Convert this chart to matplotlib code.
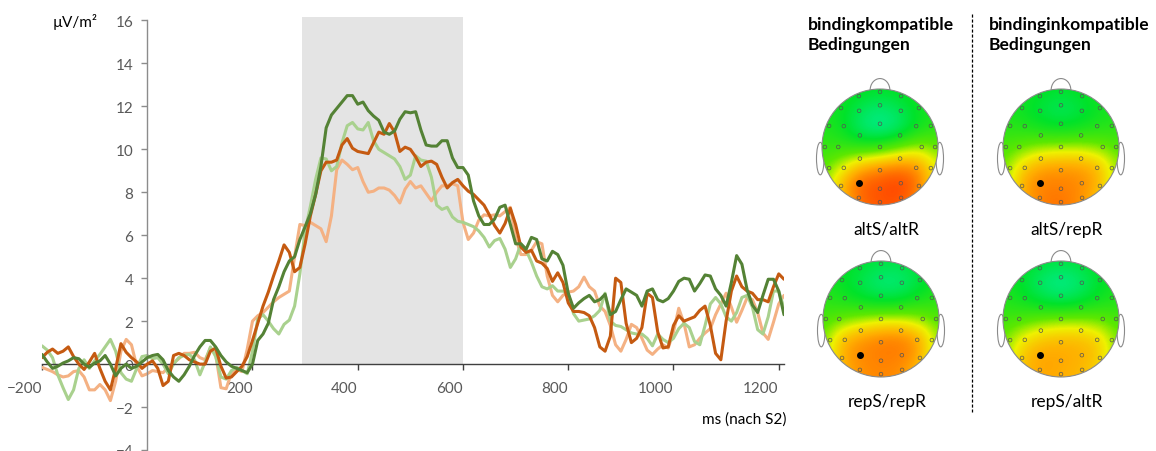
import numpy as np
import matplotlib
matplotlib.use("Agg")
import matplotlib.pyplot as plt
from matplotlib.colors import LinearSegmentedColormap
from matplotlib.patches import Circle, Ellipse, Arc

plt.rcParams["font.family"] = ["Lato", "DejaVu Sans"]

W, H = 1156, 452

# ERP curves, µV/m², one value every 10 ms from -200 to 1210 ms
ms = np.arange(-200, 1211, 10)

dark_green = [
    0.45, 0.1, -0.2, -0.1, 0.05, 0.15, 0.3, 0.25, 0.0, -0.15,
    0.05, 0.15, 0.4, 0.0, -0.55, -0.2, 0.0, -0.2, -0.1, 0.1,
    0.3, 0.4, 0.45, 0.2, -0.3, -0.6, -0.8, -0.5, -0.1, 0.4,
    0.8, 1.1, 1.1, 0.8, 0.4, 0.1, -0.1, -0.2, -0.3, -0.4,
    0.0, 1.1, 1.4, 1.9, 3.0, 3.6, 4.3, 4.8, 5.0, 5.8,
    6.4, 7.0, 7.9, 9.2, 11.0, 11.6, 11.9, 12.2, 12.5, 12.5,
    12.1, 12.2, 11.8, 11.55, 11.35, 10.8, 10.7, 10.85, 11.4, 11.75,
    11.7, 11.75, 10.9, 10.2, 10.15, 10.15, 10.4, 10.4, 9.6, 9.15,
    9.15, 8.8, 7.6, 6.9, 6.5, 6.5, 6.75, 7.3, 7.4, 6.5,
    5.6, 5.6, 5.35, 5.9, 5.8, 4.9, 4.8, 5.25, 5.1, 4.6,
    3.3, 2.6, 2.85, 3.05, 3.2, 2.9, 3.0, 3.25, 2.3, 2.45,
    3.0, 3.5, 3.35, 3.2, 2.7, 3.4, 3.5, 3.0, 2.9, 3.05,
    3.4, 3.85, 4.0, 3.95, 3.4, 3.75, 4.15, 4.1, 3.5, 3.2,
    2.7, 3.8, 5.05, 4.65, 3.45, 2.75, 2.4, 3.2, 3.95, 3.95,
    3.4, 2.3,
]
dark_orange = [
    0.3, 0.55, 0.7, 0.5, 0.6, 0.8, 0.35, 0.0, -0.25, 0.1,
    0.5, -0.2, -0.8, -1.2, -0.2, 0.95, 0.55, 0.3, 0.1, -0.2,
    0.0, 0.15, -0.2, -1.0, -0.8, 0.4, 0.5, 0.4, 0.2, 0.1,
    0.0, 0.0, 0.6, 0.75, -0.1, -0.65, -0.6, -0.35, -0.1, 0.35,
    1.1, 1.9, 2.7, 3.35, 4.1, 4.8, 5.55, 5.2, 4.3, 4.5,
    5.6, 6.9, 7.9, 9.0, 9.4, 9.4, 9.5, 10.2, 10.5, 10.05,
    9.9, 9.85, 9.8, 10.3, 10.8, 10.7, 11.2, 10.8, 9.9, 10.1,
    10.0, 9.65, 9.2, 9.4, 9.45, 9.3, 8.7, 8.2, 8.45, 8.6,
    8.3, 8.05, 7.9, 7.65, 7.4, 6.95, 6.45, 6.1, 6.55, 7.25,
    6.5, 5.45, 5.2, 5.3, 4.8, 4.7, 4.45, 3.85, 4.25, 3.8,
    2.85, 2.45, 2.45, 2.4, 2.25, 1.7, 0.8, 0.6, 1.3, 4.0,
    3.8, 1.9, 1.0, 1.2, 1.7, 3.3, 3.1, 1.5, 0.75, 0.8,
    1.8, 2.25, 2.0, 2.1, 2.2, 2.5, 2.7, 1.8, 0.5, 0.2,
    2.0, 3.4, 4.1, 3.6, 3.4, 3.3, 3.0, 3.0, 2.9, 3.6,
    4.2, 3.95,
]
light_green = [
    0.85, 0.65, 0.3, -0.5, -1.1, -1.65, -1.2, -0.2, 0.2, -0.2,
    0.15, 0.45, 0.8, 1.15, 0.6, -0.4, -0.7, -0.8, -0.2, 0.35,
    0.4, 0.25, 0.3, 0.0, -0.45, 0.0, 0.3, 0.4, 0.45, 0.2,
    -0.5, 0.1, 0.8, 0.35, -0.6, -0.7, -0.3, -0.15, -0.3, -0.45,
    0.6, 2.1, 2.3, 2.0, 1.65, 1.4, 1.85, 2.05, 2.7, 4.2,
    6.2, 7.35, 8.6, 9.6, 9.55, 9.0, 9.2, 10.3, 11.1, 11.25,
    10.95, 10.9, 11.25, 10.4, 10.0, 9.85, 9.7, 9.55, 9.2, 8.6,
    8.8, 9.7, 9.5, 9.45, 8.7, 7.4, 7.2, 7.3, 6.85, 6.65,
    6.6, 6.5, 6.4, 6.2, 5.9, 5.45, 5.75, 5.85, 5.35, 4.5,
    4.9, 5.6, 5.3, 4.75, 4.1, 3.6, 3.5, 3.65, 3.4, 3.4,
    3.3, 2.35, 2.0, 2.05, 2.1, 2.25, 2.5, 3.3, 2.0, 1.8,
    1.75, 1.6, 1.45, 1.4, 1.4, 1.2, 0.85, 1.4, 1.15, 1.0,
    1.2, 1.65, 1.9, 1.7, 1.05, 0.9, 1.8, 2.8, 3.1, 2.8,
    2.2, 2.0, 2.4, 3.1, 3.2, 2.65, 1.6, 1.4, 2.2, 3.4,
    3.4, 2.6,
]
light_orange = [
    -0.15, -0.25, -0.35, -0.5, -0.6, -0.55, -0.35, -0.3, -0.6, -1.2,
    -1.2, -0.95, -1.2, -1.7, -0.8, 0.6, 1.15, 0.9, -0.1, -0.55,
    -0.45, -0.3, -0.35, -0.4, -0.15, 0.05, 0.25, 0.5, 0.5, 0.55,
    0.3, 0.2, 0.75, 0.45, -1.1, -1.15, -0.4, -0.25, -0.35, 0.7,
    2.0, 2.25, 2.4, 2.65, 2.9, 3.1, 3.25, 3.4, 5.0, 6.5,
    6.45, 6.6, 6.45, 6.3, 5.7, 6.9, 9.05, 9.5, 9.3, 9.05,
    9.15, 8.5, 8.0, 8.05, 8.2, 8.2, 8.1, 7.85, 7.5, 8.15,
    8.5, 8.2, 8.3, 7.95, 7.6, 8.0, 8.3, 8.3, 8.4, 8.3,
    6.6, 5.8, 6.1, 6.7, 6.95, 6.9, 6.95, 6.9, 7.1, 7.3,
    5.9, 5.1, 5.1, 5.3, 5.7, 5.6, 4.1, 3.2, 2.9, 3.2,
    3.35, 3.4, 3.6, 4.05, 3.6, 3.4, 2.7, 2.45, 1.8, 0.9,
    0.6, 1.15, 1.85, 1.7, 1.2, 0.65, 0.45, 0.7, 0.9, 0.75,
    1.5, 2.6, 1.9, 0.8, 0.9, 1.2, 1.45, 1.65, 2.3, 2.8,
    3.3, 2.65, 1.95, 2.5, 3.1, 3.0, 2.4, 1.45, 1.15, 1.95,
    2.8, 3.2,
]

window_ms = (295, 600)
xtick_vals = [-200, 200, 400, 600, 800, 1000, 1200]
ytick_vals = list(range(-4, 17, 2))

# topographies (relative amplitude 0..1), 7x7 grid, rows front -> back
topo_alt_alt = [
    [0.30, 0.30, 0.28, 0.26, 0.28, 0.30, 0.30],
    [0.30, 0.28, 0.18, 0.12, 0.18, 0.28, 0.30],
    [0.32, 0.28, 0.12, 0.05, 0.12, 0.28, 0.34],
    [0.36, 0.36, 0.34, 0.36, 0.45, 0.52, 0.45],
    [0.42, 0.55, 0.72, 0.78, 0.82, 0.78, 0.55],
    [0.45, 0.72, 0.90, 0.92, 0.97, 0.85, 0.55],
    [0.45, 0.65, 0.85, 0.90, 0.90, 0.75, 0.50],
]
topo_alt_rep = [
    [0.30, 0.30, 0.28, 0.25, 0.28, 0.30, 0.30],
    [0.30, 0.28, 0.20, 0.15, 0.20, 0.28, 0.30],
    [0.34, 0.32, 0.28, 0.25, 0.28, 0.32, 0.34],
    [0.40, 0.45, 0.50, 0.52, 0.52, 0.48, 0.42],
    [0.45, 0.65, 0.75, 0.76, 0.76, 0.70, 0.48],
    [0.45, 0.75, 0.82, 0.82, 0.80, 0.72, 0.45],
    [0.42, 0.70, 0.82, 0.85, 0.78, 0.65, 0.40],
]
topo_rep_rep = [
    [0.30, 0.28, 0.25, 0.22, 0.22, 0.26, 0.30],
    [0.30, 0.26, 0.18, 0.10, 0.10, 0.20, 0.30],
    [0.34, 0.30, 0.25, 0.20, 0.22, 0.30, 0.34],
    [0.40, 0.45, 0.50, 0.55, 0.55, 0.50, 0.42],
    [0.45, 0.70, 0.78, 0.82, 0.83, 0.75, 0.48],
    [0.45, 0.75, 0.80, 0.82, 0.82, 0.75, 0.45],
    [0.42, 0.68, 0.78, 0.80, 0.78, 0.65, 0.40],
]
topo_rep_alt = [
    [0.30, 0.28, 0.24, 0.22, 0.24, 0.28, 0.30],
    [0.30, 0.24, 0.12, 0.06, 0.12, 0.24, 0.30],
    [0.32, 0.28, 0.20, 0.15, 0.20, 0.28, 0.32],
    [0.38, 0.40, 0.45, 0.48, 0.48, 0.45, 0.40],
    [0.45, 0.60, 0.68, 0.70, 0.70, 0.65, 0.45],
    [0.45, 0.70, 0.75, 0.74, 0.72, 0.68, 0.45],
    [0.42, 0.68, 0.74, 0.72, 0.70, 0.62, 0.40],
]

# electrode montage: rings of (radius, angles from nose, clockwise)
rim_angles = np.arange(0, 360, 22.5)
mid_angles = np.arange(0, 360, 30)
inner_angles = np.arange(0, 360, 60)
marked_electrode = (0.72, 210)  # highlighted channel

topo_cmap = LinearSegmentedColormap.from_list(
    "topo",
    [(0.0, "#00f0b4"), (0.25, "#00e22a"), (0.45, "#5ee800"),
     (0.58, "#eef200"), (0.72, "#ffb000"), (0.86, "#ff6a00"), (1.0, "#ff2a00")],
)


def draw_erp(fig):
    ax = fig.add_axes([42 / W, 1 / H, 742 / W, 436 / H])
    ax.set_xlim(-200, 1210)
    ax.set_ylim(-4, 16.3)

    ax.fill_between(window_ms, 0, 16.15, color="#e4e4e4", lw=0, zorder=0)

    kw = dict(lw=2.2, solid_joinstyle="round", solid_capstyle="round")
    ax.plot(ms, light_orange, color="#f4b183", zorder=2, **kw)
    ax.plot(ms, light_green, color="#a9d18e", zorder=2, **kw)
    ax.plot(ms, dark_orange, color="#c55a11", zorder=3, **kw)
    ax.plot(ms, dark_green, color="#548235", zorder=3, **kw)

    for s in ["top", "right"]:
        ax.spines[s].set_visible(False)
    ax.spines["left"].set_position(("data", 0))
    ax.spines["bottom"].set_position(("data", 0))
    ax.spines["left"].set_bounds(-4, 16)
    ax.spines["left"].set_color("#8c8c8c")
    ax.spines["bottom"].set_color("#404040")
    ax.spines["left"].set_linewidth(1.0)
    ax.spines["bottom"].set_linewidth(1.0)

    ax.set_xticks(xtick_vals)
    ax.set_yticks(ytick_vals)
    ax.tick_params(axis="x", direction="out", length=4, width=1, color="#404040",
                   pad=8, labelsize=11, labelcolor="#595959")
    ax.tick_params(axis="y", direction="out", length=4, width=1, color="#8c8c8c",
                   pad=6, labelsize=11, labelcolor="#595959")
    for lab in ax.get_xticklabels():
        lab.set_horizontalalignment("right")
    ax.patch.set_alpha(0)

    fig.text(75 / W, 1 - 22 / H, "µV/m²", ha="center", va="center", fontsize=11)
    fig.text(786 / W, 1 - 420 / H, "ms (nach S2)", ha="right", va="center", fontsize=11)


def draw_head(fig, cx, cy, values, label):
    size = 145
    ax = fig.add_axes([(cx - size / 2) / W, (H - cy - size / 2) / H, size / W, size / H])
    ax.set_xlim(-1.25, 1.25)
    ax.set_ylim(-1.25, 1.25)
    ax.axis("off")

    edge = "#8a8a8a"
    for side in (-1, 1):
        ax.add_patch(Ellipse((side * 1.03, -0.2), 0.13, 0.56, fill=False,
                             ec=edge, lw=0.8, zorder=1))
    ax.add_patch(Arc((0, 0.98), 0.34, 0.4, theta1=0, theta2=180, ec=edge, lw=0.8, zorder=1))

    head = Circle((0, 0), 1.0, transform=ax.transData, fc="white", ec="none", zorder=2)
    ax.add_patch(head)
    e = 7 / 6
    im = ax.imshow(np.array(values), extent=(-e, e, -e, e), origin="upper",
                   cmap=topo_cmap, vmin=0, vmax=1, interpolation="bicubic", zorder=3)
    im.set_clip_path(head)
    ax.add_patch(Circle((0, 0), 1.0, fill=False, ec=edge, lw=0.8, zorder=4))

    rings = [(0.95, rim_angles), (0.72, mid_angles), (0.40, inner_angles), (0.0, [0])]
    xs, ys = [], []
    for r, angs in rings:
        a = np.deg2rad(np.asarray(angs, dtype=float))
        xs.extend(r * np.sin(a))
        ys.extend(r * np.cos(a))
    ax.scatter(xs, ys, s=7, facecolors="none", edgecolors="#555555", linewidths=0.5, zorder=5)
    r, a = marked_electrode
    ax.scatter([r * np.sin(np.deg2rad(a))], [r * np.cos(np.deg2rad(a))], s=16,
               color="black", zorder=6)

    fig.text((cx + 6) / W, 1 - (cy + 82) / H, label, ha="center", va="center", fontsize=12.5)


def main():
    fig = plt.figure(figsize=(W / 100, H / 100), dpi=100)
    draw_erp(fig)

    for x0, title in [(808, "bindingkompatible\nBedingungen"),
                      (989, "bindinginkompatible\nBedingungen")]:
        fig.text(x0 / W, 1 - 17 / H, title, ha="left", va="top",
                 fontsize=12.6, fontweight="bold", linespacing=1.3)

    draw_head(fig, 880, 148, topo_alt_alt, "altS/altR")
    draw_head(fig, 1061, 148, topo_alt_rep, "altS/repR")
    draw_head(fig, 881, 320, topo_rep_rep, "repS/repR")
    draw_head(fig, 1061, 320, topo_rep_alt, "repS/altR")

    fig.add_artist(plt.Line2D([972 / W, 972 / W], [1 - 15 / H, 1 - 413 / H], color="black",
                              lw=0.9, ls=(0, (2.5, 1.5))))

    fig.savefig("out.png", dpi=100)
    plt.close(fig)


if __name__ == "__main__":
    main()
